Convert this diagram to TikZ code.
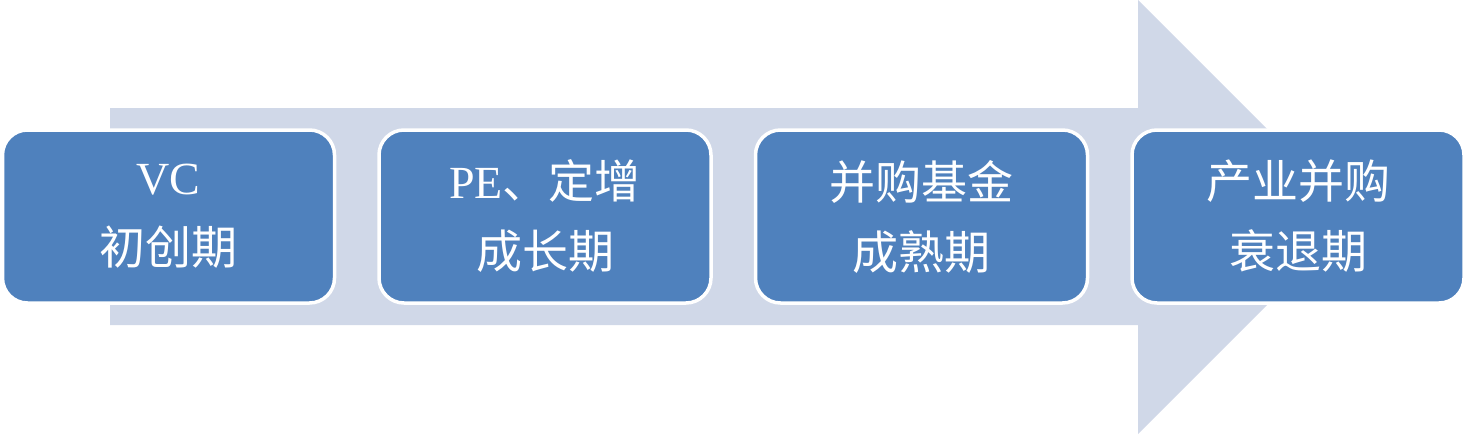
\documentclass[tikz,border=0pt]{standalone}
\usepackage{xcolor}
\usepackage{fontspec}
\usepackage{tikz}
\usetikzlibrary{positioning}
\setmainfont{Liberation Serif}
\newfontfamily\cjk{Noto Sans CJK SC}
\definecolor{stageBlue}{HTML}{4F81BD}
\definecolor{arrowGrey}{HTML}{D0D8E8}

\begin{document}
\begin{tikzpicture}[x=1pt, y=-1pt,
             stage/.style={draw=white, line width=3.5pt, fill=stageBlue, text=white,
                           rounded corners=25pt, minimum width=332pt, minimum height=173pt,
                           inner sep=0pt, align=center, font=\fontsize{46}{70}\selectfont},
             node distance=41pt]
             \useasboundingbox (0, 0) rectangle (1467, 434);

             \fill[arrowGrey] (110, 108) -- (1138, 108) -- (1138, 0) -- (1355, 217)
                  -- (1138, 434) -- (1138, 325) -- (110, 325) -- cycle;

             \node[stage] (vc) at (168.5, 216.5) {VC\\{\cjk 初创期}};
             \node[stage, right=of vc] (pe) {PE{\cjk 、定增}\\{\cjk 成长期}};
             \node[stage, right=of pe] (ma) {{\cjk 并购基金}\\{\cjk 成熟期}};
             \node[stage, right=of ma] (ind) {{\cjk 产业并购}\\{\cjk 衰退期}};
             \end{tikzpicture}
\end{document}
